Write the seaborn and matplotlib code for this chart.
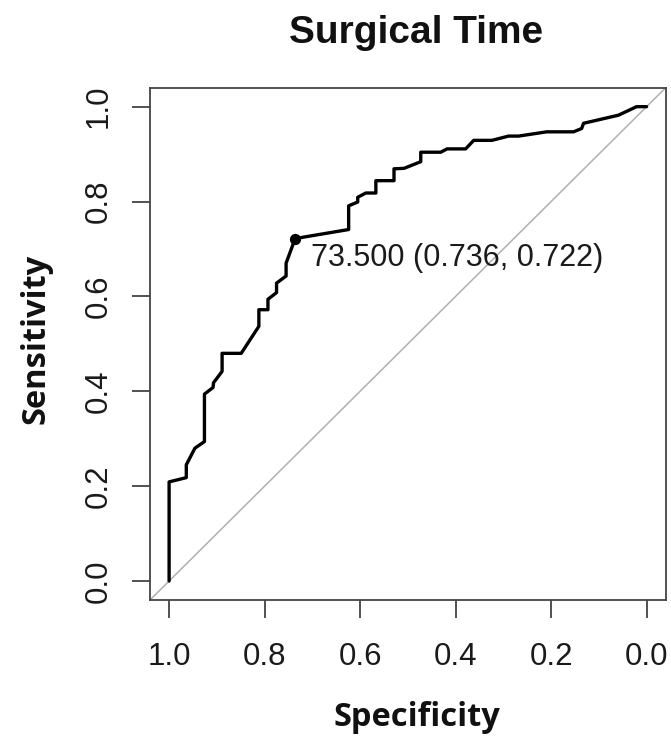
import matplotlib
matplotlib.use("Agg")
import matplotlib.pyplot as plt
import seaborn as sns
import pandas as pd

# ROC curve values
specificity = [1.0, 1.0, 0.964, 0.964, 0.946, 0.926, 0.926, 0.908, 0.907, 0.889,
               0.889, 0.849, 0.812, 0.812, 0.793, 0.793, 0.775, 0.775, 0.755, 0.755,
               0.736, 0.624, 0.624, 0.605, 0.605, 0.588, 0.567, 0.567, 0.529, 0.529,
               0.508, 0.473, 0.473, 0.431, 0.418, 0.379, 0.362, 0.324, 0.289, 0.268,
               0.209, 0.153, 0.136, 0.132, 0.059, 0.021, 0.0]
sensitivity = [0.0, 0.209, 0.218, 0.245, 0.28, 0.294, 0.394, 0.408, 0.418, 0.442,
               0.480, 0.480, 0.537, 0.572, 0.572, 0.594, 0.608, 0.628, 0.643, 0.670,
               0.722, 0.741, 0.791, 0.799, 0.809, 0.818, 0.818, 0.844, 0.844, 0.869,
               0.870, 0.884, 0.904, 0.904, 0.911, 0.911, 0.929, 0.929, 0.938, 0.938,
               0.947, 0.947, 0.954, 0.965, 0.982, 1.0, 1.0]

thr_value = 73.5
thr_spec = 0.736
thr_sens = 0.722
ticks = [1.0, 0.8, 0.6, 0.4, 0.2, 0.0]
tick_labels = ["1.0", "0.8", "0.6", "0.4", "0.2", "0.0"]
title = "Surgical Time"
xlabel = "Specificity"
ylabel = "Sensitivity"

sns.set_style("white")
plt.rcParams["font.family"] = ["Liberation Sans", "DejaVu Sans"]

W, H = 671, 736
fig = plt.figure(figsize=(W / 100, H / 100), dpi=100)
L, R, T, B = 150, 665.7, 87.7, 600
ax = fig.add_axes([L / W, 1 - B / H, (R - L) / W, (B - T) / H])

df = pd.DataFrame({"Specificity": specificity, "Sensitivity": sensitivity})

ax.axline((1, 0), (0, 1), color="#b0b0b0", lw=1.1, zorder=1)
sns.lineplot(data=df, x="Specificity", y="Sensitivity", sort=False, estimator=None,
             color="black", lw=2.4, ax=ax, zorder=3)
ax.scatter([thr_spec], [thr_sens], s=50, color="black", zorder=4)
ax.text(thr_spec - 0.034, thr_sens - 0.042,
        f"{thr_value:.3f} ({thr_spec:.3f}, {thr_sens:.3f})",
        ha="left", va="center", fontsize=22, color="#1a1a1a",
        family=["Liberation Sans", "DejaVu Sans"])

ax.set_xlim(1.04, -0.04)
ax.set_ylim(-0.04, 1.04)
ax.set_xticks(ticks)
ax.set_xticklabels(tick_labels)
ax.set_yticks(ticks)
ax.set_yticklabels(tick_labels, rotation=90, va="center")

ax.tick_params(axis="both", direction="out", length=13, width=1.2, color="#333333",
               labelsize=22.5, labelcolor="#1a1a1a", bottom=True, left=True)
ax.tick_params(axis="x", pad=17)
ax.tick_params(axis="y", pad=13)
for sp in ax.spines.values():
    sp.set_color("#444444")
    sp.set_linewidth(1.3)

ax.set_xlabel("")
ax.set_ylabel("")
fig.text(417 / W, 1 - 726 / H, xlabel, ha="center", va="baseline", fontsize=23.5,
         fontweight="bold", family=["Open Sans", "DejaVu Sans"], color="#111111")
fig.text(45 / W, 1 - 339 / H, ylabel, ha="center", va="baseline", rotation=90,
         rotation_mode="anchor", fontsize=23.5, fontweight="bold",
         family=["Open Sans", "DejaVu Sans"], color="#111111")
fig.text(416 / W, 1 - 43 / H, title, ha="center", va="baseline", fontsize=28,
         fontweight="bold", family=["Liberation Sans", "DejaVu Sans"], color="#111111")

fig.savefig("out.png", dpi=100, facecolor="white")
